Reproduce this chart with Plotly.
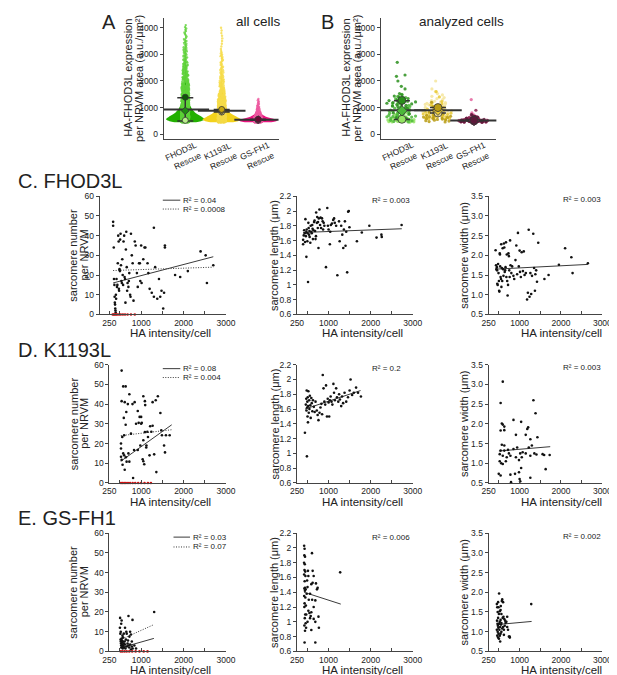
import numpy as np
import plotly.graph_objects as go

W, H = 617, 675
FONT = "Liberation Sans, Arial, sans-serif"
INK = "#222222"
AXIS = "#444444"

# ---------------- A / B : HA-FHOD3L expression per cell ----------------
group_names = ["FHOD3L", "K1193L", "GS-FH1"]
group_pos = [0, 1, 2]

# all cells: histogram (bin centre, cells per 100 a.u. bin)
a_centers = [500, 600, 700, 800, 900, 1000, 1100, 1200, 1300, 1400, 1500, 1600, 1700,
             1800, 1900, 2000, 2100, 2200, 2300, 2400, 2500, 2600, 2700, 2800, 2900,
             3000, 3100, 3200, 3300, 3400, 3500, 3600, 3700, 3800, 3900, 4000, 4100]
a_fhod3l = [260, 230, 170, 120, 90, 70, 55, 45, 38, 32, 27, 23, 20, 17, 15, 13, 12, 10,
            9, 8, 7, 7, 6, 5, 5, 4, 4, 4, 3, 3, 3, 2, 2, 2, 2, 2, 1]
a_k1193l = [280, 220, 150, 100, 70, 50, 38, 30, 24, 20, 16, 13, 11, 9, 8, 7, 6, 5, 5, 4,
            4, 3, 3, 3, 3, 3, 2, 1, 1, 1, 1, 1, 1, 1, 1, 1, 0]
a_gsfh1 = [300, 120, 50, 25, 12, 7, 4, 3, 2, 0, 0, 0, 0, 0, 0, 0, 0, 0, 0, 0, 0, 0, 0,
           0, 0, 0, 0, 0, 0, 0, 0, 0, 0, 0, 0, 0, 0]
a_colors = ["#22b000", "#f3d21c", "#e8147f"]
a_dot_colors = ["#5fd23a", "#f6dc4a", "#ee5aa0"]
a_rep_means = [[520, 880, 1390], [830, 880, 930], [520, 545, 560]]
a_rep_colors = [["#b8f08a", "#1f8c10", "#0d5a06"], ["#f8ea9a", "#8a7a30", "#c9a80e"],
                ["#f07ab0", "#a0104e", "#6a0a34"]]

# analyzed cells: one histogram per replicate
b_centers = [500, 600, 700, 800, 900, 1000, 1100, 1200, 1300, 1400, 1500, 1600, 1700,
             1800, 1900, 2000, 2100, 2200, 2300, 2400, 2500, 2600, 2700]
b_fhod3l = [
    [16, 10, 4, 1, 0, 0, 0, 0, 0, 0, 0, 0, 0, 0, 0, 0, 0, 0, 0, 0, 0, 0, 0],
    [5, 8, 8, 7, 6, 5, 4, 3, 2, 2, 1, 0, 0, 0, 0, 0, 0, 0, 0, 0, 0, 0, 0],
    [0, 2, 0, 3, 0, 4, 4, 4, 4, 3, 2, 0, 1, 1, 0, 1, 0, 2, 0, 0, 0, 0, 1],
]
b_k1193l = [
    [0, 3, 5, 6, 6, 6, 5, 4, 3, 2, 2, 1, 1, 0, 0, 1, 0, 0, 0, 0, 0, 0, 0],
    [0, 6, 7, 6, 5, 4, 3, 2, 0, 1, 0, 1, 0, 0, 0, 0, 0, 0, 0, 0, 0, 0, 0],
    [6, 8, 6, 4, 3, 2, 0, 1, 0, 0, 0, 0, 0, 0, 0, 0, 0, 0, 0, 0, 0, 0, 0],
]
b_gsfh1 = [
    [20, 6, 2, 1, 0, 0, 0, 0, 1, 0, 0, 0, 0, 0, 0, 0, 0, 0, 0, 0, 0, 0, 0],
    [25, 8, 3, 0, 1, 0, 0, 0, 0, 0, 0, 0, 0, 0, 0, 0, 0, 0, 0, 0, 0, 0, 0],
    [15, 6, 2, 0, 0, 0, 0, 0, 0, 0, 0, 0, 0, 0, 0, 0, 0, 0, 0, 0, 0, 0, 0],
]
b_colors = [["#93e463", "#4cb83a", "#2a8f1c"], ["#f4e59c", "#e9c933", "#b99c14"],
            ["#e3649e", "#8c2452", "#5c1a3a"]]
b_rep_means = [[560, 880, 1270], [800, 900, 1000], [500, 510, 520]]
b_rep_marks = ["circle", "diamond", "circle"]

# ---------------- C-E : sarcomere metrics vs HA intensity ----------------
c_num_x = [340, 340, 355, 360, 370, 375, 380, 385, 390, 395, 400, 405, 410, 420, 430, 440,
           450, 460, 470, 475, 480, 490, 500, 505, 515, 525, 535, 545, 555, 565, 575, 585,
           600, 610, 620, 630, 640, 650, 660, 670, 680, 700, 710, 720, 740, 750, 760, 780,
           800, 820, 850, 870, 900, 920, 950, 970, 980, 1000, 1010, 1050, 1080, 1100, 1150,
           1170, 1200, 1250, 1300, 1300, 1330, 1380, 1420, 1450, 1480, 1520, 1540, 1560,
           1560, 1800, 1920, 2100, 2400, 2520, 2550, 2700]
c_num_y = [47, 45, 34, 18, 15, 9, 6, 5, 3, 2, 1, 10, 8, 18, 14, 15, 26, 40, 37, 13, 12, 23,
           22, 38, 41, 25, 17, 16, 28, 20, 15, 37, 40, 19, 18, 6, 33, 42, 24, 12, 16, 14, 17,
           21, 10, 9, 41, 30, 26, 7, 37, 35, 21, 14, 26, 26, 17, 35, 16, 28, 34, 34, 26, 21,
           13, 11, 9, 44, 24, 8, 18, 9, 12, 3, 11, 35, 34, 20, 19, 22, 32, 30, 16, 25]
c_zero_x = [330, 355, 380, 410, 440, 480, 520, 570, 620, 680, 760, 850]
c_num_fit_x = [340, 2700]
c_num_fit_y = [16, 29.3]
c_num_fit0_y = [22.3, 24]

c_len_x = [395, 395, 410, 434, 450, 473, 473, 496, 512, 527, 535, 550, 566, 589, 612, 628,
           643, 667, 690, 705, 721, 744, 760, 767, 783, 798, 822, 845, 860, 884, 938, 969,
           984, 1000, 1031, 1054, 1132, 1147, 1209, 1248, 1264, 1326, 1349, 1364, 1388, 1403,
           1442, 1465, 1496, 1674, 1790, 1969, 2140, 2256, 2264, 2736, 420, 440, 460, 480,
           500, 520, 545, 575, 600, 620, 655, 680, 700, 730, 750, 810, 870, 900, 1080, 1110,
           1180, 1300, 1420, 1480, 1040]
c_len_y = [1.55, 1.61, 1.67, 1.70, 1.89, 1.72, 1.38, 1.59, 1.04, 1.77, 1.68, 1.65, 1.57,
           1.72, 1.81, 1.62, 1.74, 1.87, 1.62, 1.98, 1.84, 1.77, 1.50, 1.90, 2.02, 1.81, 1.77,
           1.90, 1.86, 1.84, 1.24, 2.04, 1.80, 1.75, 1.55, 1.81, 1.90, 1.84, 1.13, 1.86, 1.59,
           1.68, 1.50, 1.75, 1.86, 1.53, 1.17, 1.99, 1.78, 1.59, 1.71, 1.80, 1.64, 1.68, 1.65,
           1.81, 1.74, 1.58, 1.66, 1.75, 1.70, 1.84, 1.73, 1.80, 1.70, 1.76, 1.85, 1.73, 1.66,
           1.92, 1.85, 1.91, 1.75, 1.80, 1.83, 1.88, 1.80, 1.80, 1.72, 2.00, 1.72]
c_len_fit_x = [395, 2740]
c_len_fit_y = [1.71, 1.76]

c_wid_x = [420, 430, 440, 450, 455, 460, 470, 480, 490, 500, 505, 510, 520, 525, 530, 540,
           550, 555, 560, 570, 580, 590, 600, 610, 620, 630, 640, 650, 660, 670, 680, 690,
           700, 710, 720, 730, 740, 750, 760, 770, 780, 800, 820, 850, 870, 900, 920, 940,
           960, 980, 1000, 1010, 1030, 1050, 1080, 1100, 1120, 1150, 1180, 1200, 1220, 1240,
           1260, 1280, 1300, 1330, 1350, 1370, 1380, 1400, 1420, 1450, 1600, 1700, 1950,
           2100, 2250, 2280, 2650]
c_wid_y = [2.13, 1.75, 1.65, 1.70, 1.62, 1.28, 1.25, 1.78, 1.55, 1.35, 1.10, 1.08, 2.05,
           2.02, 1.72, 1.45, 1.40, 2.28, 1.20, 1.68, 1.35, 2.18, 1.65, 1.48, 2.30, 2.20, 1.58,
           1.62, 1.70, 2.33, 1.45, 2.02, 1.35, 0.98, 1.25, 2.05, 1.98, 1.62, 1.45, 2.38, 1.75,
           1.55, 1.72, 1.48, 1.40, 1.88, 2.25, 1.52, 2.57, 1.72, 2.12, 1.58, 1.45, 2.08, 1.60,
           2.10, 1.50, 1.55, 0.88, 1.05, 2.65, 0.95, 1.55, 1.02, 1.48, 2.55, 1.68, 1.10, 1.52,
           1.62, 1.33, 2.32, 1.40, 1.50, 1.76, 2.18, 1.95, 1.55, 1.80]
c_wid_fit_x = [420, 2650]
c_wid_fit_y = [1.65, 1.77]

d_num_x = [540, 577, 635, 540, 613, 591, 635, 650, 722, 686, 796, 847, 920, 964, 1000, 1015,
           942, 1051, 1088, 1095, 1270, 1343, 1394, 1453, 1270, 1212, 1146, 1088, 1161, 1124,
           1051, 1036, 1051, 1073, 1197, 1307, 1358, 810, 832, 920, 722, 657, 577, 525, 540,
           562, 613, 525, 555, 599, 525, 1540, 1562, 1584, 1672, 1490, 1475, 600, 640, 700,
           760, 880, 980, 1000, 1120, 1240]
d_num_y = [57, 49, 49, 41.5, 41, 33, 29.5, 36, 45, 40, 40, 41, 36.5, 33.5, 33.5, 30.5, 30.5,
           44, 41.5, 39.5, 41, 42, 44, 35.5, 29, 28.8, 26, 25.8, 23.3, 19, 21.7, 12, 11, 9.5,
           14, 14.5, 5.5, 2.5, 16.7, 16.7, 10.8, 10.8, 15, 13.3, 11.7, 9.2, 6.7, 20, 23.3,
           24.2, 17.5, 19, 15.5, 24.2, 24.2, 24.2, 26.7, 14, 13, 15, 25, 30, 19, 30, 18, 26]
d_zero_x = [525, 560, 600, 640, 690, 740, 800, 860, 930, 1000, 1080, 1160, 1230]
d_num_fit_x = [520, 1720]
d_num_fit_y = [11, 29.5]
d_num_fit0_y = [24, 27]

d_len_x = [438, 485, 460, 470, 475, 480, 490, 495, 500, 505, 510, 515, 520, 530, 540, 545,
           555, 565, 575, 590, 600, 615, 630, 650, 670, 690, 720, 740, 760, 785, 808, 830,
           846, 862, 880, 900, 920, 940, 962, 980, 1000, 1015, 1030, 1050, 1070, 1090, 1115,
           1130, 1150, 1180, 1200, 1231, 1250, 1270, 1300, 1320, 1346, 1380, 1420, 1462,
           1500, 1523, 1560, 1600, 1654, 1700, 1769]
d_len_y = [1.28, 0.96, 1.66, 1.74, 1.58, 1.85, 1.62, 1.70, 1.50, 1.76, 1.42, 1.64, 1.84,
           1.55, 1.72, 1.60, 1.78, 1.65, 1.48, 1.75, 1.68, 1.57, 1.72, 1.63, 1.56, 1.70, 1.58,
           1.52, 1.45, 1.55, 1.62, 1.67, 1.53, 2.06, 1.88, 1.70, 1.66, 1.92, 1.50, 1.74, 1.69,
           1.50, 1.72, 1.77, 1.70, 1.66, 1.94, 1.82, 1.72, 1.88, 1.76, 1.70, 1.80, 1.73, 1.64,
           1.77, 1.68, 1.82, 1.70, 1.76, 1.85, 2.00, 1.79, 1.82, 1.89, 1.82, 1.77]
d_len_fit_x = [440, 1760]
d_len_fit_y = [1.60, 1.85]

d_wid_x = [593, 541, 570, 593, 630, 541, 630, 852, 1037, 1185, 1207, 1148, 911, 1333, 1385,
           1430, 1259, 1296, 570, 630, 541, 519, 593, 519, 556, 593, 496, 541, 778, 793, 889,
           985, 1037, 1000, 1015, 1259, 778, 852, 941, 1015, 1074, 1148, 1222, 1259, 1356,
           1407, 1556, 1593, 1630, 1726, 719, 741, 689, 667, 630, 911, 985, 1052]
d_wid_y = [3.07, 2.53, 2.01, 1.98, 1.93, 1.83, 1.84, 2.10, 2.05, 1.87, 1.91, 1.72, 1.72,
           2.60, 2.27, 1.66, 1.61, 1.45, 1.47, 1.45, 1.32, 1.23, 1.19, 1.05, 1.00, 0.98, 0.73,
           0.69, 0.71, 0.52, 0.73, 0.77, 0.88, 0.60, 0.54, 0.63, 1.19, 1.36, 1.40, 1.25, 1.28,
           1.25, 1.40, 1.19, 1.25, 1.22, 1.23, 1.21, 0.85, 1.21, 1.34, 1.25, 1.15, 1.05, 1.32,
           1.15, 1.08, 1.15]
d_wid_fit_x = [500, 1740]
d_wid_fit_y = [1.31, 1.42]

e_num_x = [504, 540, 701, 796, 1307, 650, 723, 759, 500, 510, 515, 520, 525, 530, 535, 540,
           545, 550, 555, 560, 565, 570, 575, 580, 590, 600, 610, 620, 630, 640, 660, 680,
           700, 720, 740, 760, 780, 800, 520, 530, 560, 590, 620, 660, 690, 740, 780, 840, 880]
e_num_y = [17, 15.7, 18, 16, 20, 10, 7.5, 8.6, 12, 9, 6, 5, 4, 3, 2, 6.5, 5.5, 4.5, 3.5, 2.5,
           1.5, 5, 7, 3, 4, 2, 5, 3.5, 1.5, 6, 2.5, 4, 3, 2, 3.5, 1, 2.5, 1.5, 10, 14, 8, 9, 12,
           9, 5.5, 10, 5, 3, 1.5]
e_zero_x = [520, 560, 610, 660, 720, 790, 870, 960, 1060, 1150]
e_num_fit_x = [500, 1300]
e_num_fit_y = [1.7, 6.6]
e_num_fit0_y = [5.8, 13.6]

e_len_x = [420, 430, 425, 440, 418, 435, 428, 445, 420, 450, 432, 440, 425, 455, 438, 420,
           448, 430, 460, 425, 445, 470, 435, 455, 425, 440, 465, 430, 480, 490, 500, 510,
           520, 530, 545, 560, 575, 590, 590, 590, 606, 622, 622, 646, 646, 646, 685, 685,
           685, 724, 700, 740, 760, 770, 560, 520, 500, 610, 1276]
e_len_y = [2.03, 1.99, 1.90, 1.88, 1.80, 1.78, 1.70, 1.68, 1.64, 1.62, 1.55, 1.46, 1.45,
           1.44, 1.42, 1.35, 1.33, 1.25, 1.22, 1.20, 1.10, 1.10, 1.05, 0.98, 0.95, 0.88, 0.92,
           0.72, 1.38, 1.56, 1.47, 1.69, 1.62, 1.30, 1.12, 1.05, 1.08, 1.51, 1.13, 0.89, 1.93,
           1.69, 1.53, 1.62, 1.20, 1.04, 1.29, 1.00, 0.72, 1.44, 1.52, 1.46, 1.07, 0.92, 1.38,
           1.15, 1.00, 1.30, 1.67]
e_len_fit_x = [420, 1290]
e_len_fit_y = [1.40, 1.24]

e_wid_x = [504, 570, 741, 763, 450, 460, 470, 480, 455, 465, 475, 485, 450, 470, 490, 460,
           480, 500, 520, 540, 560, 510, 530, 550, 520, 540, 500, 560, 580, 600, 620, 640,
           660, 680, 700, 720, 590, 610, 630, 650, 560, 520, 540, 490, 580, 600, 530, 620,
           760, 700, 500, 480, 545, 1281]
e_wid_y = [1.97, 1.78, 0.88, 0.85, 1.70, 1.62, 1.50, 1.35, 1.28, 1.20, 1.15, 1.10, 1.05,
           1.00, 0.95, 0.90, 0.85, 0.82, 0.90, 0.95, 1.00, 1.05, 1.12, 1.18, 1.25, 1.30, 1.20,
           1.22, 1.08, 1.12, 1.05, 1.15, 1.22, 1.25, 1.12, 1.05, 1.35, 1.38, 1.32, 1.28, 1.45,
           1.52, 1.55, 1.62, 1.82, 1.75, 0.75, 0.92, 0.88, 1.38, 1.45, 1.75, 1.65, 1.70]
e_wid_fit_x = [450, 1290]
e_wid_fit_y = [1.18, 1.26]

r2_num = [("0.04", "0.0008"), ("0.08", "0.004"), ("0.03", "0.07")]
r2_len = ["0.003", "0.2", "0.006"]
r2_wid = ["0.003", "0.003", "0.002"]
row_titles = ["C. FHOD3L", "D. K1193L", "E. GS-FH1"]


def px_x(a, b):
    return [a / W, b / W]


def px_y(top, bottom):
    return [1 - bottom / H, 1 - top / H]


def expand(centers, counts, step=100):
    # spread each histogram bin's cells evenly across the bin
    vals = []
    for c, n in zip(centers, counts):
        for i in range(n):
            vals.append(c - step / 2 + (i + 0.5) * step / n)
    return vals


def note(text, x, y, size, xanchor="center", angle=0):
    return dict(text=text, x=x / W, y=1 - y / H, xref="paper", yref="paper",
                showarrow=False, xanchor=xanchor, yanchor="middle", textangle=angle,
                borderpad=0, font=dict(size=size, color=INK, family=FONT))


fig = go.Figure()
layout = {}
annotations = []
shapes = []


# ---- top row ----
def violin_axes(n, x0, x1, xr):
    layout["xaxis%d" % n] = dict(domain=px_x(x0, x1), range=xr, anchor="y%d" % n,
                                 showticklabels=False, ticks="", showline=True,
                                 linecolor=AXIS, linewidth=1, showgrid=False, zeroline=False)
    layout["yaxis%d" % n] = dict(domain=px_y(5, 128), range=[-185, 4370], anchor="x%d" % n,
                                 tickvals=[0, 1000, 2000, 3000, 4000], ticks="outside",
                                 ticklen=3, tickcolor=AXIS, showline=True, linecolor=AXIS,
                                 linewidth=1, showgrid=False, zeroline=False,
                                 tickfont=dict(size=8.5, color=INK, family=FONT))
    # slanted two-line group labels under each category
    for g in group_pos:
        cx = x0 + (group_pos[g] - xr[0]) / (xr[1] - xr[0]) * (x1 - x0)
        annotations.append(note(group_names[g], cx - 4, 140, 8.5, angle=-25))
        annotations.append(note("Rescue", cx + 2, 150, 8.5, angle=-25))


violin_axes(1, 153, 271, [-0.59, 2.56])
violin_axes(2, 376, 495, [-0.59, 2.62])

for g, counts in enumerate([a_fhod3l, a_k1193l, a_gsfh1]):
    vals = expand(a_centers, counts)
    fig.add_trace(go.Violin(x=[group_pos[g]] * len(vals), y=vals, xaxis="x", yaxis="y",
                            width=1.05, spanmode="hard", bandwidth=60, points="all",
                            pointpos=0, jitter=0.2, fillcolor=a_colors[g],
                            line=dict(width=0, color=a_colors[g]),
                            marker=dict(size=2.4, color=a_dot_colors[g], opacity=0.8),
                            showlegend=False, hoverinfo="skip"))

for g, reps in enumerate([b_fhod3l, b_k1193l, b_gsfh1]):
    for r, counts in enumerate(reps):
        vals = expand(b_centers, counts)
        fig.add_trace(go.Violin(x=[group_pos[g]] * len(vals), y=vals, xaxis="x2",
                                yaxis="y2", width=0.95, spanmode="hard", bandwidth=80,
                                points="all", pointpos=0, jitter=0.9,
                                fillcolor="rgba(0,0,0,0)", line=dict(width=0),
                                marker=dict(size=3.2, color=b_colors[g][r], opacity=0.85),
                                showlegend=False, hoverinfo="skip"))

for ax, means_all, rep_cols, msize in [("", a_rep_means, a_rep_colors, 6),
                                       ("2", b_rep_means, b_colors, 8)]:
    for g, means in enumerate(means_all):
        m = float(np.mean(means))
        sd = float(np.std(means, ddof=1))
        fig.add_trace(go.Scatter(
            x=[group_pos[g]], y=[m], xaxis="x" + ax, yaxis="y" + ax, mode="markers",
            marker=dict(symbol="line-ew", size=34, line=dict(width=2, color="#333333")),
            error_y=dict(type="data", array=[sd], width=8, thickness=1.5, color="#333333"),
            showlegend=False, hoverinfo="skip"))
        for r, v in enumerate(means):
            fig.add_trace(go.Scatter(
                x=[group_pos[g]], y=[v], xaxis="x" + ax, yaxis="y" + ax, mode="markers",
                marker=dict(symbol=b_rep_marks[r], size=msize, color=rep_cols[g][r],
                            line=dict(width=0.8, color="#333333")),
                showlegend=False, hoverinfo="skip"))

annotations += [
    note("A", 97, 9, 20), note("B", 321, 9, 20),
    note("all cells", 250, 9, 13.5), note("analyzed cells", 459, 9, 13.5),
    note("HA-FHOD3L expression", 116, 66, 11, angle=-90),
    note("per NRVM area (a.u./μm²)", 127.5, 66, 11, angle=-90),
    note("HA-FHOD3L expression", 340, 66, 11, angle=-90),
    note("per NRVM area (a.u./μm²)", 351.5, 66, 11, angle=-90),
]

# ---- scatter rows ----
row_y = [(186, 306), (357, 477), (528, 648)]
col_x = [(97, 217), (290, 409), (487, 604)]
col_yr = [[0, 60], [0.6, 2.2], [0.5, 3.5]]
col_ticks = [
    ([0, 10, 20, 30, 40, 50, 60], ["0", "10", "20", "30", "40", "50", "60"]),
    ([0.6, 0.8, 1, 1.2, 1.4, 1.6, 1.8, 2, 2.2],
     ["0.6", "0.8", "1", "1.2", "1.4", "1.6", "1.8", "2", "2.2"]),
    ([0.5, 1, 1.5, 2, 2.5, 3, 3.5], ["0.5", "1.0", "1.5", "2.0", "2.5", "3.0", "3.5"]),
]
col_titles = [["sarcomere number", "per NRVM"], ["sarcomere length (μm)"],
              ["sarcomere width (μm)"]]
col_title_x = [[60, 71], [267], [462]]
col_xtitle_x = [160, 357, 562]

panels = [
    [(c_num_x, c_num_y, c_zero_x, c_num_fit_x, [c_num_fit_y, c_num_fit0_y]),
     (c_len_x, c_len_y, None, c_len_fit_x, [c_len_fit_y]),
     (c_wid_x, c_wid_y, None, c_wid_fit_x, [c_wid_fit_y])],
    [(d_num_x, d_num_y, d_zero_x, d_num_fit_x, [d_num_fit_y, d_num_fit0_y]),
     (d_len_x, d_len_y, None, d_len_fit_x, [d_len_fit_y]),
     (d_wid_x, d_wid_y, None, d_wid_fit_x, [d_wid_fit_y])],
    [(e_num_x, e_num_y, e_zero_x, e_num_fit_x, [e_num_fit_y, e_num_fit0_y]),
     (e_len_x, e_len_y, None, e_len_fit_x, [e_len_fit_y]),
     (e_wid_x, e_wid_y, None, e_wid_fit_x, [e_wid_fit_y])],
]
DOT = "1px,1.5px"

n = 3
for r in range(3):
    top, bot = row_y[r]
    for c in range(3):
        x0, x1 = col_x[c]
        xr = [250, 3000]
        if r == 0 and c == 0:
            x0, xr = 87, [21, 3000]
        layout["xaxis%d" % n] = dict(
            domain=px_x(x0, x1), range=xr, anchor="y%d" % n,
            tickvals=[250, 1000, 2000, 3000], ticks="inside", ticklen=3, tickcolor=AXIS,
            minor=dict(tickvals=[500, 1500, 2500], ticks="inside", ticklen=3,
                       tickcolor=AXIS),
            showline=True, linecolor=AXIS, linewidth=1, showgrid=False, zeroline=False,
            tickfont=dict(size=8.5, color=INK, family=FONT))
        layout["yaxis%d" % n] = dict(
            domain=px_y(top, bot), range=col_yr[c], anchor="x%d" % n,
            tickvals=col_ticks[c][0], ticktext=col_ticks[c][1], ticks="outside", ticklen=3,
            tickcolor=AXIS, showline=True, linecolor=AXIS, linewidth=1, showgrid=False,
            zeroline=False, tickfont=dict(size=8.5, color=INK, family=FONT))
        xs, ys, zeros, fit_x, fits = panels[r][c]
        xa, ya = "x%d" % n, "y%d" % n
        for k, fy in enumerate(fits):
            fig.add_trace(go.Scatter(x=fit_x, y=fy, xaxis=xa, yaxis=ya, mode="lines",
                                     line=dict(color="#3a3a3a", width=1,
                                               dash="solid" if k == 0 else DOT),
                                     showlegend=False, hoverinfo="skip"))
        fig.add_trace(go.Scatter(x=xs, y=ys, xaxis=xa, yaxis=ya, mode="markers",
                                 marker=dict(size=2.6, color="#111111"), cliponaxis=False,
                                 showlegend=False, hoverinfo="skip"))
        if zeros:
            fig.add_trace(go.Scatter(x=zeros, y=[0] * len(zeros), xaxis=xa, yaxis=ya,
                                     mode="markers", marker=dict(size=2.6, color="#cc1111"),
                                     cliponaxis=False, showlegend=False, hoverinfo="skip"))
        for line_text, tx in zip(col_titles[c], col_title_x[c]):
            annotations.append(note(line_text, tx, (top + bot) / 2, 11, angle=-90))
        annotations.append(note("HA intensity/cell", col_xtitle_x[c], bot + 19, 11.5))
        if c == 1:
            annotations.append(note("R² = " + r2_len[r], 366, top + 4, 8, xanchor="left"))
        if c == 2:
            annotations.append(note("R² = " + r2_wid[r], 562, top + 3, 8, xanchor="left"))
        n += 1

    # row heading and R² legend of the sarcomere-number panel
    annotations.append(note(row_titles[r], 2, top - 15, 20, xanchor="left"))
    lx0, lx1 = (163, 180) if r == 2 else (152, 170)
    for k, dash in enumerate(["solid", DOT]):
        ly = top + 4 + k * 9 if r < 2 else top + 4 + k * 10
        shapes.append(dict(type="line", xref="paper", yref="paper", x0=lx0 / W, x1=lx1 / W,
                           y0=1 - ly / H, y1=1 - ly / H,
                           line=dict(color="#3a3a3a", width=1, dash=dash)))
        annotations.append(note("R² = " + r2_num[r][k], lx1 + 2, ly, 8, xanchor="left"))

fig.update_layout(**layout)
fig.update_layout(width=W, height=H, margin=dict(l=0, r=0, t=0, b=0),
                  paper_bgcolor="white", plot_bgcolor="white",
                  font=dict(family=FONT, color=INK), annotations=annotations, shapes=shapes,
                  violinmode="overlay")
fig.write_html("out.html")
